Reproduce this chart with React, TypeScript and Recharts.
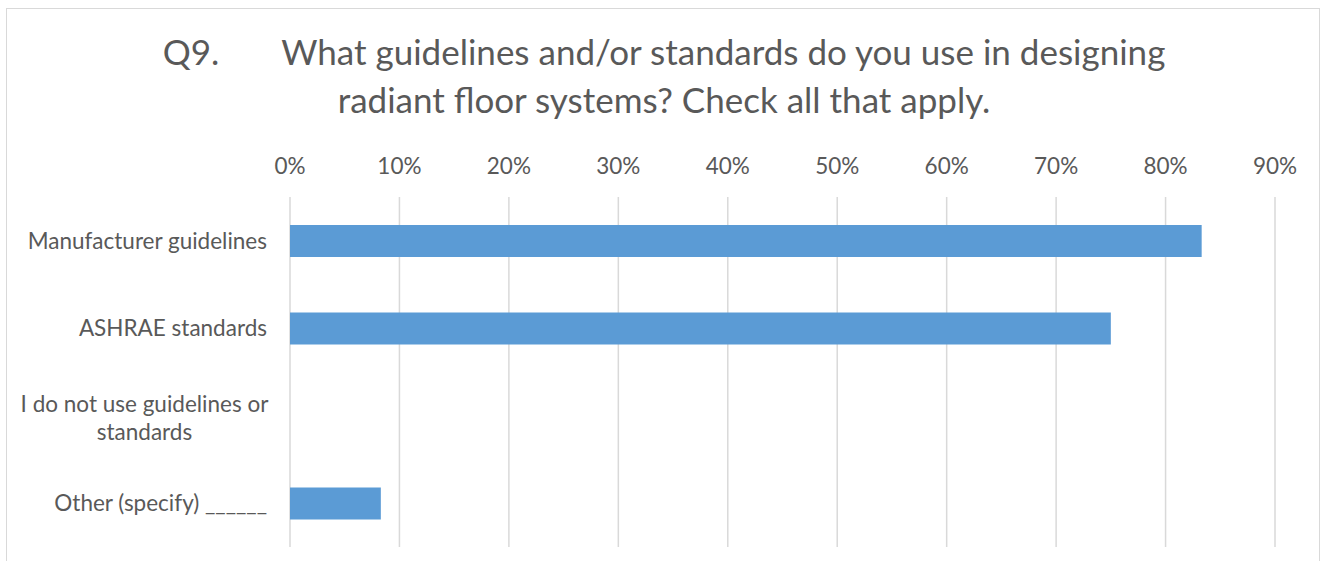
import { BarChart, Bar, XAxis, YAxis, CartesianGrid } from 'recharts';

const categories = [
  'Manufacturer guidelines',
  'ASHRAE standards',
  'I do not use guidelines or standards',
  'Other (specify) ______',
];
const shares = [0.833, 0.75, 0, 0.083];
const xTicks = [0, 0.1, 0.2, 0.3, 0.4, 0.5, 0.6, 0.7, 0.8, 0.9];

const chartData = categories.map((name, i) => ({ name, value: shares[i] }));

const FONT = 'Lato, "Open Sans", sans-serif';
const TEXT = '#595959';
const LABEL_SIZE = 22.5;

// wrapped labels: each line centred in the block, block right-aligned to the axis
const CategoryTick = (props: any) => {
  const { x, y, payload } = props;
  const label: string = payload.value;
  const lines = label === 'I do not use guidelines or standards'
    ? ['I do not use guidelines or', 'standards']
    : [label];
  if (lines.length === 1) {
    return (
      <text x={x} y={y} dy={8} textAnchor="end" fontSize={LABEL_SIZE} fill={TEXT} fontFamily={FONT}>
        {label}
      </text>
    );
  }
  const blockWidth = 245;
  const cx = x - blockWidth / 2;
  return (
    <g>
      {lines.map((l, i) => (
        <text key={i} x={cx} y={y} dy={-4 + i * 28} textAnchor="middle" fontSize={LABEL_SIZE} fill={TEXT} fontFamily={FONT}>
          {l}
        </text>
      ))}
    </g>
  );
};

const App = () => {
  return (
    <div style={{ position: 'absolute', left: 0, top: 0, width: 1322, height: 561, overflow: 'hidden', background: '#fff' }}>
      <div style={{ position: 'absolute', left: 6, top: 8, width: 1314, height: 600, border: '1.5px solid #d9d9d9', boxSizing: 'border-box' }} />
      <div
        style={{
          position: 'absolute', left: 0, top: 27, width: 1328, textAlign: 'center',
          fontFamily: FONT, fontSize: 35, color: TEXT, lineHeight: '48px',
        }}
      >
        <div><span style={{ display: 'inline-block', marginRight: 62 }}>Q9.</span>What guidelines and/or standards do you use in designing</div>
        <div>radiant floor systems? Check all that apply.</div>
      </div>
      <div style={{ position: 'absolute', left: 0, top: 0 }}>
        <BarChart
          width={1322}
          height={561}
          layout="vertical"
          data={chartData}
          margin={{ top: 140, right: 47, left: 0, bottom: 14 }}
          barCategoryGap="32%"
        >
          <CartesianGrid horizontal={false} stroke="#d9d9d9" strokeWidth={1.5} />
          <XAxis
            type="number"
            orientation="top"
            domain={[0, 0.9]}
            ticks={xTicks}
            tickFormatter={(v: number) => `${Math.round(v * 100)}%`}
            axisLine={false}
            tickLine={false}
            tickSize={0}
            tickMargin={23}
            height={57}
            tick={{ fontSize: LABEL_SIZE, fill: TEXT, fontFamily: FONT }}
          />
          <YAxis
            type="category"
            dataKey="name"
            width={290}
            axisLine={false}
            tickLine={false}
            tickSize={0}
            tickMargin={23}
            tick={<CategoryTick />}
          />
          <Bar dataKey="value" fill="#5b9bd5" isAnimationActive={false} />
        </BarChart>
      </div>
    </div>
  );
};

export default App;
